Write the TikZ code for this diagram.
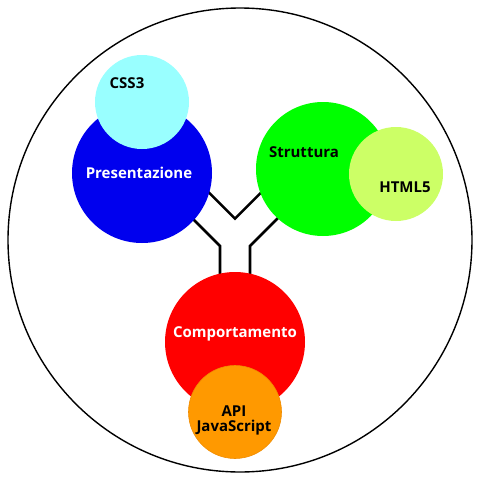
\documentclass[tikz,border=0pt]{standalone}
\usepackage{fontspec}
\setmainfont{Open Sans}
\begin{document}
\begin{tikzpicture}[x=1pt,y=-1pt,
  disc/.style={circle,inner sep=0pt,minimum size=#1},
  lbl/.style={font=\fontsize{15}{17}\selectfont\bfseries,inner sep=0pt,align=center},
  ylink/.style={draw=black,line width=2.6pt,fill=white,line join=miter}]
\useasboundingbox (0,0) rectangle (480,480);
\fill[white] (0,0) rectangle (480,480);
\node[disc=464pt,draw=black,line width=1.4pt] (outer) at (240,240) {};
% Y-shaped link
\draw[ylink] (220,300) -- (220,246) -- (160,186) -- (181.2,164.8) -- (235,218.6)
  -- (288.8,164.8) -- (310,186) -- (250,246) -- (250,300);
% circles
\node[disc=140pt,fill={rgb,255:red,0;green,0;blue,238}] (pres) at (142,173) {};
\node[disc=94pt,fill={rgb,255:red,153;green,255;blue,255}] (css) at (142,102) {};
\node[disc=134pt,fill={rgb,255:red,0;green,255;blue,0}] (strut) at (323,169) {};
\node[disc=94pt,fill={rgb,255:red,204;green,255;blue,102}] (html) at (396,174) {};
\node[disc=140pt,fill={rgb,255:red,255;green,0;blue,0}] (comp) at (235,342) {};
\node[disc=93pt,fill={rgb,255:red,255;green,153;blue,0},draw={rgb,255:red,240;green,140;blue,0},line width=0.6pt] (js) at (235,412) {};
% labels
\node[lbl] (tcss) at (127,83) {CSS3};
\node[lbl,text=white] (tpres) at (139,173) {Presentazione};
\node[lbl] (tstrut) at (304,152) {Struttura};
\node[lbl] (thtml) at (405,187) {HTML5};
\node[lbl,text=white] (tcomp) at (235,334) {Comportamento};
\node[lbl] (tapi) at (234,411) {API};
\node[lbl] (tjs) at (234,428) {JavaScript};
\end{tikzpicture}
\end{document}
